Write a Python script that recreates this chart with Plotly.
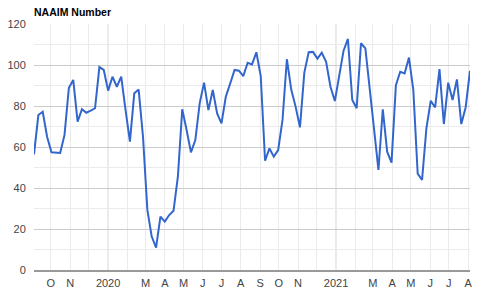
import pandas as pd
import plotly.graph_objects as go

title = "NAAIM Number"
start_date = "2019-09-04"
naaim = [56.4, 75.6, 77.2, 65.0, 57.4, 57.2, 57.1, 65.9, 88.9, 92.7,
         72.4, 78.4, 76.7, 77.7, 78.9, 99.0, 97.6, 87.5, 94.3, 89.4,
         94.3, 78.0, 62.6, 86.2, 88.0, 65.0, 29.3, 16.3, 10.9, 26.0,
         23.6, 26.8, 28.9, 45.5, 78.4, 68.3, 57.4, 63.4, 81.3, 91.4,
         78.0, 87.8, 76.4, 71.5, 84.6, 91.0, 97.6, 97.2, 94.6, 101.1,
         100.3, 106.2, 94.6, 53.3, 59.3, 55.3, 58.5, 73.2, 102.8, 88.0,
         79.7, 69.6, 96.3, 106.2, 106.4, 103.1, 106.0, 101.6, 89.4, 82.4,
         95.1, 107.0, 112.7, 82.9, 78.9, 110.6, 108.1, 88.0, 67.0, 48.8,
         78.4, 57.7, 52.4, 90.2, 96.7, 95.9, 103.6, 87.8, 47.0, 43.9,
         69.1, 82.6, 79.3, 98.0, 71.2, 91.4, 82.9, 93.0, 71.2, 79.3,
         97.2]
dates = pd.date_range(start_date, periods=len(naaim), freq="7D")

month_ticks = pd.date_range("2019-10-01", "2021-08-01", freq="MS")
month_labels = ["O", "N", "", "2020", "", "M", "A", "M", "J", "J", "A", "S",
                "O", "N", "", "2021", "", "M", "A", "M", "J", "J", "A"]
year_lines = ["2020-01-01", "2021-01-01"]
y_ticks = [0, 20, 40, 60, 80, 100, 120]

fig = go.Figure()
fig.add_trace(go.Scatter(x=dates, y=naaim, mode="lines",
                         line=dict(color="#3366cc", width=2), hoverinfo="skip"))

for d in year_lines:
    fig.add_shape(type="line", xref="x", yref="paper", x0=d, x1=d, y0=0, y1=1,
                  line=dict(color="#cccccc", width=1), layer="below")

fig.update_layout(
    width=480, height=291,
    margin=dict(l=34, r=10, t=24, b=21, autoexpand=False),
    paper_bgcolor="white", plot_bgcolor="white",
    showlegend=False,
    font=dict(family="Arial, Liberation Sans, sans-serif", size=11, color="#444444"),
    title=dict(text="<b>" + title + "</b>", x=34 / 480, xanchor="left",
               y=1 - 12 / 291, yanchor="middle",
               font=dict(size=10.5, color="#000000")),
)
fig.update_xaxes(
    automargin=False,
    range=[dates[0], dates[-1]],
    tickmode="array", tickvals=month_ticks, ticktext=month_labels,
    showgrid=True, gridcolor="#ebebeb", gridwidth=1,
    ticks="outside", ticklen=2, tickcolor="rgba(0,0,0,0)",
    showline=True, linecolor="#999999", linewidth=2,
    zeroline=False, tickfont=dict(size=11, color="#444444"),
)
fig.update_yaxes(
    automargin=False,
    range=[0, 120], tickmode="array", tickvals=y_ticks,
    showgrid=True, gridcolor="#cccccc", gridwidth=1,
    minor=dict(dtick=10, showgrid=True, gridcolor="#ebebeb", gridwidth=1),
    zeroline=False, ticks="outside", ticklen=5, tickcolor="rgba(0,0,0,0)",
    showline=False,
    tickfont=dict(size=11, color="#444444"),
)

fig.write_html("out.html")
